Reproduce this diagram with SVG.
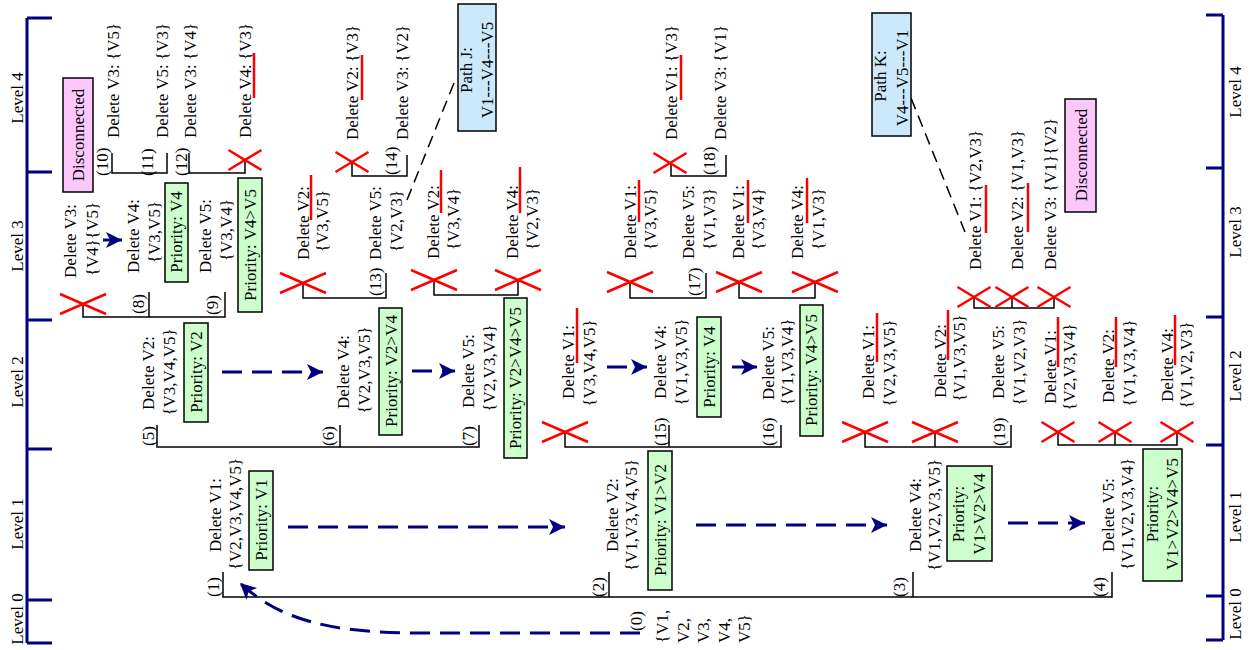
<svg xmlns="http://www.w3.org/2000/svg" xmlns:xlink="http://www.w3.org/1999/xlink" width="1250" height="650" viewBox="0 0 1250 650">
<style>
  .t { font-family: "Liberation Serif", "Times New Roman", serif; font-size: 17px; fill: #000; }
  .m { text-anchor: middle; }
  .br { stroke: #000; stroke-width: 1.5; fill: none; }
  .x { stroke: #f00; stroke-width: 2.5; fill: none; }
  .u { stroke: #f00; stroke-width: 2.5; }
  .pri { fill: #ccffcc; stroke: #000; stroke-width: 1.5; }
  .pth { fill: #cce8fb; stroke: #000; stroke-width: 1.5; }
  .dis { fill: #fcc8fc; stroke: #000; stroke-width: 1.5; }
  .axis { stroke: #000080; stroke-width: 3; fill: none; }
  .flow { stroke: #000080; stroke-width: 3; stroke-dasharray: 20 10; fill: none; marker-end: url(#ah); }
  .step { stroke: #000080; stroke-width: 3; fill: none; marker-end: url(#ah); }
  .lead { stroke: #000; stroke-width: 1.5; stroke-dasharray: 12 7; fill: none; }
</style>
<defs>
  <marker id="ah" markerUnits="userSpaceOnUse" markerWidth="16" markerHeight="16" refX="16" refY="8" orient="auto">
    <path d="M0,0 L16,8 L0,16 L4,8 z" fill="#000080"/>
  </marker>
  <path id="xw" d="M-23,-10 L23,10 M-23,10 L23,-10"/>
  <path id="xn" d="M-16.5,-10 L16.5,10 M-16.5,10 L16.5,-10"/>
</defs>

<!-- level scales -->
<g id="scale-left">
  <path class="axis" d="M27,18 V643 M27,18 H52 M27,172 H52 M27,320 H52 M27,449 H52 M27,600 H52 M27,643 H52"/>
  <text class="t m" transform="translate(23,98) rotate(-90)">Level 4</text>
  <text class="t m" transform="translate(23,246) rotate(-90)">Level 3</text>
  <text class="t m" transform="translate(23,382) rotate(-90)">Level 2</text>
  <text class="t m" transform="translate(23,524) rotate(-90)">Level 1</text>
  <text class="t m" transform="translate(23,619) rotate(-90)">Level 0</text>
</g>
<g id="scale-right">
  <path class="axis" d="M1223,15 V640 M1206,15 H1223 M1206,168 H1223 M1206,317 H1223 M1206,445 H1223 M1206,596 H1223 M1206,640 H1223"/>
  <text class="t m" transform="translate(1241,92) rotate(-90)">Level 4</text>
  <text class="t m" transform="translate(1241,232) rotate(-90)">Level 3</text>
  <text class="t m" transform="translate(1241,376) rotate(-90)">Level 2</text>
  <text class="t m" transform="translate(1241,517) rotate(-90)">Level 1</text>
  <text class="t m" transform="translate(1241,614) rotate(-90)">Level 0</text>
</g>

<!-- connectors: tree brackets, flow arrows, leader lines -->
<g id="connectors">
  <path class="br" d="M223,572 V597 H1112 V572 M609,597 V572 M913,597 V572"/>
  <path class="br" d="M157,425 V447 H479 V425 M340,447 V425"/>
  <path class="br" d="M565,432 V447 H781 V425 M669,447 V425"/>
  <path class="br" d="M865,432 V447 H1011 V425 M935,447 V432"/>
  <path class="br" d="M1058,432 V445 H1177 V432 M1115,445 V432"/>
  <path class="br" d="M83,304 V317 H225 V292 M149,317 V292"/>
  <path class="br" d="M303,283 V298 H386 V273"/>
  <path class="br" d="M434,280 V295 H518 V280"/>
  <path class="br" d="M630,282 V298 H706 V273"/>
  <path class="br" d="M739,282 V298 H815 V282"/>
  <path class="br" d="M974,297 V308 H1054 V297 M1012,308 V297"/>
  <path class="br" d="M112,153 V173 H167 V153"/>
  <path class="br" d="M189,153 V173 H245 V160"/>
  <path class="br" d="M352,162 V176 H407 V155"/>
  <path class="br" d="M671,163 V176 H726 V155"/>

  <path class="flow" d="M640,633 L420,633 C330,633 280,620 240,583"/>
  <path class="flow" d="M288,527 H565"/>
  <path class="flow" d="M696,525 H887"/>
  <path class="flow" d="M1008,523 H1085"/>
  <path class="flow" d="M222,372 H323"/>
  <path class="flow" d="M412,371 H455"/>
  <path class="flow" d="M607,367 H647"/>
  <path class="step" d="M732,367 H757"/>
  <path class="step" d="M103,240 H122"/>

  <path class="lead" d="M407,200 L456,78"/>
  <path class="lead" d="M911,98 L965,232"/>
</g>

<!-- pruned branches -->
<g id="cuts">
  <use xlink:href="#xw" class="x" x="565" y="432"/>
  <use xlink:href="#xw" class="x" x="865" y="432"/>
  <use xlink:href="#xw" class="x" x="935" y="432"/>
  <use xlink:href="#xn" class="x" x="1058" y="432"/>
  <use xlink:href="#xn" class="x" x="1115" y="432"/>
  <use xlink:href="#xn" class="x" x="1177" y="432"/>
  <use xlink:href="#xw" class="x" x="83" y="304"/>
  <use xlink:href="#xw" class="x" x="303" y="283"/>
  <use xlink:href="#xw" class="x" x="434" y="280"/>
  <use xlink:href="#xw" class="x" x="518" y="280"/>
  <use xlink:href="#xw" class="x" x="630" y="282"/>
  <use xlink:href="#xw" class="x" x="739" y="282"/>
  <use xlink:href="#xw" class="x" x="815" y="282"/>
  <use xlink:href="#xn" class="x" x="974" y="297"/>
  <use xlink:href="#xn" class="x" x="1012" y="297"/>
  <use xlink:href="#xn" class="x" x="1054" y="297"/>
  <use xlink:href="#xn" class="x" x="245" y="160"/>
  <use xlink:href="#xn" class="x" x="352" y="162"/>
  <use xlink:href="#xn" class="x" x="670" y="163"/>
</g>

<!-- level 0 -->
<g id="n0">
  <text class="t" transform="translate(642,631) rotate(-90)">(0)</text>
  <text class="t" transform="translate(668,643) rotate(-90)">{V1,</text>
  <text class="t" transform="translate(688.5,643) rotate(-90)">V2,</text>
  <text class="t" transform="translate(709,643) rotate(-90)">V3,</text>
  <text class="t" transform="translate(729.5,643) rotate(-90)">V4,</text>
  <text class="t" transform="translate(750,643) rotate(-90)">V5}</text>
</g>

<!-- level 1 -->
<g id="n1">
  <text class="t" transform="translate(219,597) rotate(-90)">(1)</text>
  <text class="t m" transform="translate(221,515) rotate(-90)">Delete V1:</text>
  <text class="t m" transform="translate(241,514) rotate(-90)">{V2,V3,V4,V5}</text>
  <rect class="pri" x="249" y="471" width="24" height="99"/>
  <text class="t m" transform="translate(267,520) rotate(-90)">Priority: V1</text>
</g>
<g id="n2">
  <text class="t" transform="translate(604,597) rotate(-90)">(2)</text>
  <text class="t m" transform="translate(618,515) rotate(-90)">Delete V2:</text>
  <text class="t m" transform="translate(637,515) rotate(-90)">{V1,V3,V4,V5}</text>
  <rect class="pri" x="648" y="451" width="24" height="139"/>
  <text class="t m" transform="translate(666,520) rotate(-90)">Priority: V1&gt;V2</text>
</g>
<g id="n3">
  <text class="t" transform="translate(905,597) rotate(-90)">(3)</text>
  <text class="t m" transform="translate(921,515) rotate(-90)">Delete V4:</text>
  <text class="t m" transform="translate(940,515) rotate(-90)">{V1,V2,V3,V5}</text>
  <rect class="pri" x="947" y="466" width="45" height="95"/>
  <text class="t m" transform="translate(964,514) rotate(-90)">Priority:</text>
  <text class="t m" transform="translate(985,514) rotate(-90)">V1&gt;V2&gt;V4</text>
</g>
<g id="n4">
  <text class="t" transform="translate(1105,597) rotate(-90)">(4)</text>
  <text class="t m" transform="translate(1114,515) rotate(-90)">Delete V5:</text>
  <text class="t m" transform="translate(1133,514) rotate(-90)">{V1,V2,V3,V4}</text>
  <rect class="pri" x="1143" y="449" width="39" height="132"/>
  <text class="t m" transform="translate(1158,514) rotate(-90)">Priority:</text>
  <text class="t m" transform="translate(1178,514) rotate(-90)">V1&gt;V2&gt;V4&gt;V5</text>
</g>

<!-- level 2 -->
<g id="n5">
  <text class="t" transform="translate(154,446) rotate(-90)">(5)</text>
  <text class="t m" transform="translate(154,373) rotate(-90)">Delete V2:</text>
  <text class="t m" transform="translate(175,372) rotate(-90)">{V3,V4,V5}</text>
  <rect class="pri" x="184" y="323" width="24" height="99"/>
  <text class="t m" transform="translate(202,372) rotate(-90)">Priority: V2</text>
</g>
<g id="n6">
  <text class="t" transform="translate(334,446) rotate(-90)">(6)</text>
  <text class="t m" transform="translate(349,372) rotate(-90)">Delete V4:</text>
  <text class="t m" transform="translate(370,370) rotate(-90)">{V2,V3,V5}</text>
  <rect class="pri" x="379" y="308" width="23" height="127"/>
  <text class="t m" transform="translate(397,371) rotate(-90)">Priority: V2&gt;V4</text>
</g>
<g id="n7">
  <text class="t" transform="translate(474,446) rotate(-90)">(7)</text>
  <text class="t m" transform="translate(474,371) rotate(-90)">Delete V5:</text>
  <text class="t m" transform="translate(495,368) rotate(-90)">{V2,V3,V4}</text>
  <rect class="pri" x="504" y="298" width="23" height="160"/>
  <text class="t m" transform="translate(521,378) rotate(-90)">Priority: V2&gt;V4&gt;V5</text>
</g>
<g id="n2-v1">
  <text class="t m" transform="translate(574,362) rotate(-90)">Delete V1:</text>
  <line class="u" x1="577" y1="308" x2="577" y2="363"/>
  <text class="t m" transform="translate(595,363) rotate(-90)">{V3,V4,V5}</text>
</g>
<g id="n15">
  <text class="t" transform="translate(666,446) rotate(-90)">(15)</text>
  <text class="t m" transform="translate(666,362) rotate(-90)">Delete V4:</text>
  <text class="t m" transform="translate(687,362) rotate(-90)">{V1,V3,V5}</text>
  <rect class="pri" x="697" y="317" width="24" height="100"/>
  <text class="t m" transform="translate(715,367) rotate(-90)">Priority: V4</text>
</g>
<g id="n16">
  <text class="t" transform="translate(774,446) rotate(-90)">(16)</text>
  <text class="t m" transform="translate(774,363) rotate(-90)">Delete V5:</text>
  <text class="t m" transform="translate(793,362) rotate(-90)">{V1,V3,V4}</text>
  <rect class="pri" x="800" y="305" width="23" height="131"/>
  <text class="t m" transform="translate(817,370) rotate(-90)">Priority: V4&gt;V5</text>
</g>
<g id="n3-v1">
  <text class="t m" transform="translate(874,362) rotate(-90)">Delete V1:</text>
  <line class="u" x1="877" y1="313" x2="877" y2="362"/>
  <text class="t m" transform="translate(895,363) rotate(-90)">{V2,V3,V5}</text>
</g>
<g id="n3-v2">
  <text class="t m" transform="translate(946,361) rotate(-90)">Delete V2:</text>
  <line class="u" x1="948" y1="310" x2="948" y2="360"/>
  <text class="t m" transform="translate(965,358) rotate(-90)">{V1,V3,V5}</text>
</g>
<g id="n19">
  <text class="t" transform="translate(1005,446) rotate(-90)">(19)</text>
  <text class="t m" transform="translate(1004,362) rotate(-90)">Delete V5:</text>
  <text class="t m" transform="translate(1025,362) rotate(-90)">{V1,V2,V3}</text>
</g>
<g id="n4-v1">
  <text class="t m" transform="translate(1056,367) rotate(-90)">Delete V1:</text>
  <line class="u" x1="1058" y1="317" x2="1058" y2="367"/>
  <text class="t m" transform="translate(1075,367) rotate(-90)">{V2,V3,V4}</text>
</g>
<g id="n4-v2">
  <text class="t m" transform="translate(1114,366) rotate(-90)">Delete V2:</text>
  <line class="u" x1="1116" y1="317" x2="1116" y2="367"/>
  <text class="t m" transform="translate(1135,363) rotate(-90)">{V1,V3,V4}</text>
</g>
<g id="n4-v4">
  <text class="t m" transform="translate(1173,365) rotate(-90)">Delete V4:</text>
  <line class="u" x1="1175" y1="315" x2="1175" y2="365"/>
  <text class="t m" transform="translate(1192,365) rotate(-90)">{V1,V2,V3}</text>
</g>

<!-- level 3 -->
<g id="n5-v3">
  <text class="t m" transform="translate(76,241) rotate(-90)">Delete V3:</text>
  <text class="t m" transform="translate(98,239) rotate(-90)">{V4}{V5}</text>
</g>
<g id="n8">
  <text class="t" transform="translate(144,314) rotate(-90)">(8)</text>
  <text class="t m" transform="translate(139,236) rotate(-90)">Delete V4:</text>
  <text class="t m" transform="translate(160,232) rotate(-90)">{V3,V5}</text>
  <rect class="pri" x="165" y="183" width="23" height="99"/>
  <text class="t m" transform="translate(182,232) rotate(-90)">Priority: V4</text>
</g>
<g id="n9">
  <text class="t" transform="translate(218,315) rotate(-90)">(9)</text>
  <text class="t m" transform="translate(211,236) rotate(-90)">Delete V5:</text>
  <text class="t m" transform="translate(232,230) rotate(-90)">{V3,V4}</text>
  <rect class="pri" x="238" y="178" width="24" height="134"/>
  <text class="t m" transform="translate(256,245) rotate(-90)">Priority: V4&gt;V5</text>
</g>
<g id="n6-v2">
  <text class="t m" transform="translate(309,223) rotate(-90)">Delete V2:</text>
  <line class="u" x1="311" y1="175" x2="311" y2="220"/>
  <text class="t m" transform="translate(328,221) rotate(-90)">{V3,V5}</text>
</g>
<g id="n13">
  <text class="t" transform="translate(381,296) rotate(-90)">(13)</text>
  <text class="t m" transform="translate(381,223) rotate(-90)">Delete V5:</text>
  <text class="t m" transform="translate(402,221) rotate(-90)">{V2,V3}</text>
</g>
<g id="n7-v2">
  <text class="t m" transform="translate(439,222) rotate(-90)">Delete V2:</text>
  <line class="u" x1="441" y1="170" x2="441" y2="213"/>
  <text class="t m" transform="translate(459,219) rotate(-90)">{V3,V4}</text>
</g>
<g id="n7-v4">
  <text class="t m" transform="translate(518,222) rotate(-90)">Delete V4:</text>
  <line class="u" x1="520" y1="167" x2="520" y2="213"/>
  <text class="t m" transform="translate(538,219) rotate(-90)">{V2,V3}</text>
</g>
<g id="n15-v1">
  <text class="t m" transform="translate(636,222) rotate(-90)">Delete V1:</text>
  <line class="u" x1="639" y1="180" x2="639" y2="222"/>
  <text class="t m" transform="translate(656,219) rotate(-90)">{V3,V5}</text>
</g>
<g id="n17">
  <text class="t" transform="translate(700,296) rotate(-90)">(17)</text>
  <text class="t m" transform="translate(694,222) rotate(-90)">Delete V5:</text>
  <text class="t m" transform="translate(715,219) rotate(-90)">{V1,V3}</text>
</g>
<g id="n16-v1">
  <text class="t m" transform="translate(744,222) rotate(-90)">Delete V1:</text>
  <line class="u" x1="748" y1="180" x2="748" y2="223"/>
  <text class="t m" transform="translate(764,219) rotate(-90)">{V3,V4}</text>
</g>
<g id="n16-v4">
  <text class="t m" transform="translate(803,222) rotate(-90)">Delete V4:</text>
  <line class="u" x1="807" y1="178" x2="807" y2="223"/>
  <text class="t m" transform="translate(824,219) rotate(-90)">{V1,V3}</text>
</g>
<g id="n19-v1">
  <text class="t" transform="translate(981,270) rotate(-90)">Delete V1: {V2,V3}</text>
  <line class="u" x1="986" y1="185" x2="986" y2="233"/>
</g>
<g id="n19-v2">
  <text class="t" transform="translate(1023,270) rotate(-90)">Delete V2: {V1,V3}</text>
  <line class="u" x1="1028" y1="183" x2="1028" y2="232"/>
</g>
<g id="n19-v3">
  <text class="t" transform="translate(1056,270) rotate(-90)">Delete V3: {V1}{V2}</text>
</g>

<!-- level 4 -->
<g id="n10">
  <text class="t" transform="translate(108,176) rotate(-90)">(10)</text>
  <text class="t" transform="translate(119,138) rotate(-90)">Delete V3: {V5}</text>
</g>
<g id="n11">
  <text class="t" transform="translate(153,176) rotate(-90)">(11)</text>
  <text class="t" transform="translate(168,138) rotate(-90)">Delete V5: {V3}</text>
</g>
<g id="n12">
  <text class="t" transform="translate(187,176) rotate(-90)">(12)</text>
  <text class="t" transform="translate(196,138) rotate(-90)">Delete V3: {V4}</text>
</g>
<g id="n9-v4">
  <text class="t" transform="translate(251,138) rotate(-90)">Delete V4: {V3}</text>
  <line class="u" x1="254" y1="53" x2="254" y2="98"/>
</g>
<g id="n13-v2">
  <text class="t" transform="translate(358,140) rotate(-90)">Delete V2: {V3}</text>
  <line class="u" x1="362" y1="55" x2="362" y2="100"/>
</g>
<g id="n14">
  <text class="t" transform="translate(397,175) rotate(-90)">(14)</text>
  <text class="t" transform="translate(408,140) rotate(-90)">Delete V3: {V2}</text>
</g>
<g id="n17-v1">
  <text class="t" transform="translate(677,140) rotate(-90)">Delete V1: {V3}</text>
  <line class="u" x1="681" y1="55" x2="681" y2="100"/>
</g>
<g id="n18">
  <text class="t" transform="translate(715,175) rotate(-90)">(18)</text>
  <text class="t" transform="translate(726,140) rotate(-90)">Delete V3: {V1}</text>
</g>

<!-- annotations -->
<g id="disc-left">
  <rect class="dis" x="63" y="78" width="30" height="114"/>
  <text class="t m" transform="translate(84,135) rotate(-90)">Disconnected</text>
</g>
<g id="disc-right">
  <rect class="dis" x="1065" y="99" width="31" height="113"/>
  <text class="t m" transform="translate(1087,155) rotate(-90)">Disconnected</text>
</g>
<g id="path-j">
  <rect class="pth" x="458" y="4" width="38" height="127"/>
  <text class="t m" transform="translate(472,70) rotate(-90)">Path J:</text>
  <text class="t m" transform="translate(493,70) rotate(-90)">V1---V4---V5</text>
</g>
<g id="path-k">
  <rect class="pth" x="872" y="13" width="39" height="123"/>
  <text class="t m" transform="translate(886,76) rotate(-90)">Path K:</text>
  <text class="t m" transform="translate(908,78) rotate(-90)">V4---V5---V1</text>
</g>
</svg>
